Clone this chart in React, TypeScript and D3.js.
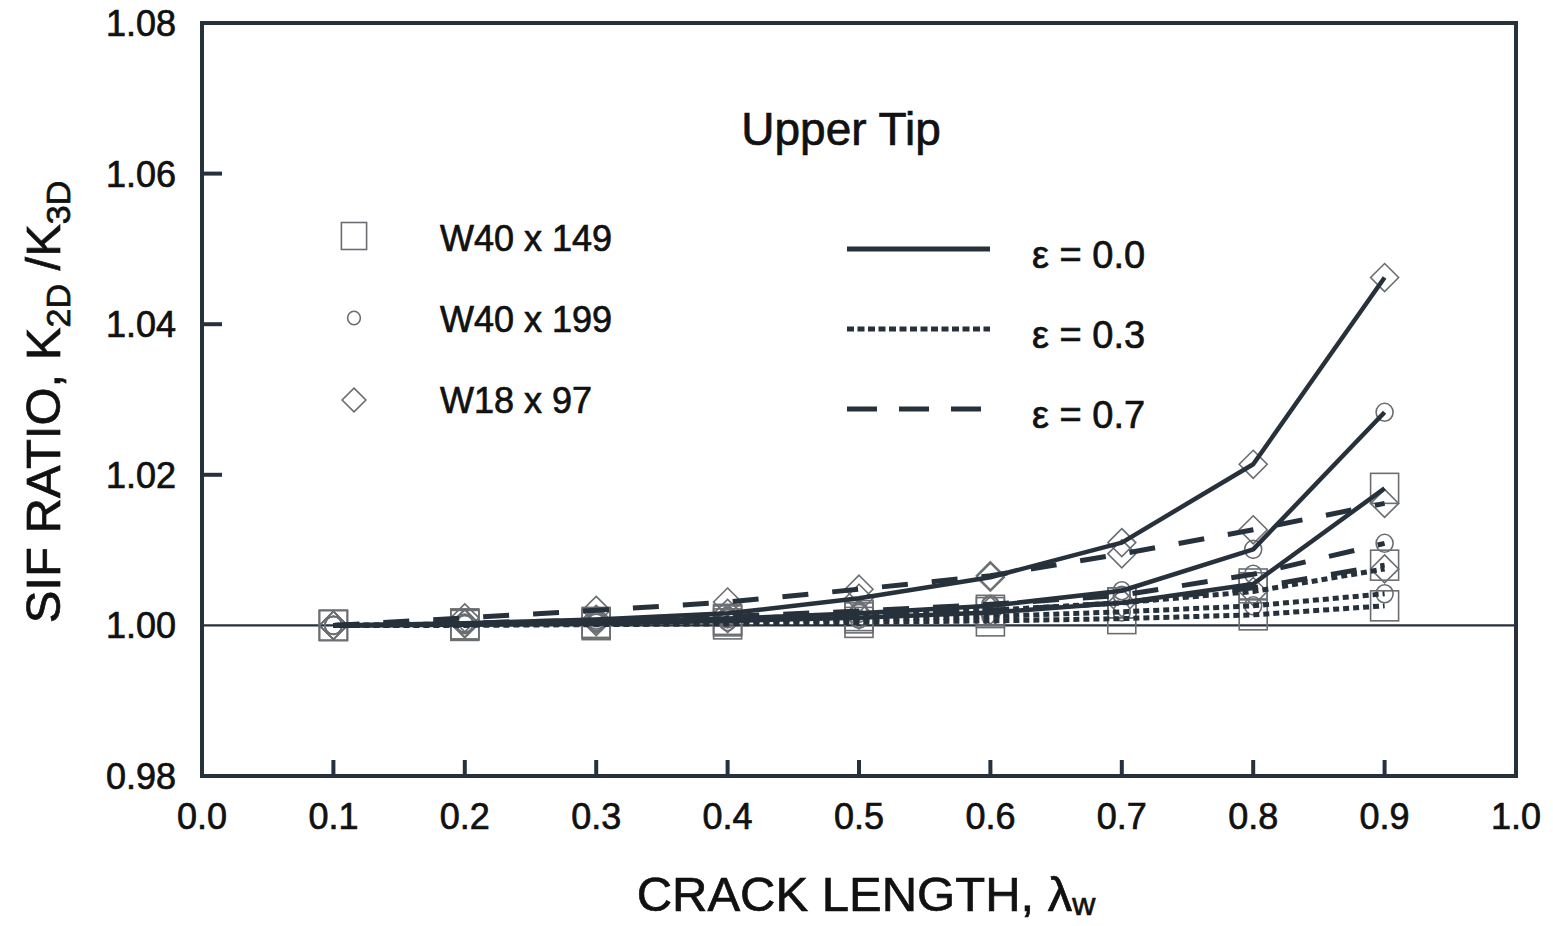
import React from "react";
import * as d3 from "d3";

const xs = [0.1, 0.2, 0.3, 0.4, 0.5, 0.6, 0.7, 0.8, 0.9];
const xTicks = [0.0, 0.1, 0.2, 0.3, 0.4, 0.5, 0.6, 0.7, 0.8, 0.9, 1.0];
const yTicks = [0.98, 1.0, 1.02, 1.04, 1.06, 1.08];

// eps = 0.0 (solid)
const sqE0 = [1.0, 1.0001, 1.0003, 1.0006, 1.001, 1.0017, 1.003, 1.0055, 1.0182];
const ciE0 = [1.0, 1.0002, 1.0005, 1.0009, 1.0016, 1.0026, 1.0046, 1.0101, 1.0283];
const diE0 = [1.0, 1.0003, 1.0008, 1.0016, 1.0036, 1.0064, 1.011, 1.0214, 1.0462];
// eps = 0.3 (dotted)
const sqE3 = [1.0, 1.0, 1.0001, 1.0002, 1.0004, 1.0006, 1.0009, 1.0014, 1.0026];
const ciE3 = [1.0, 1.0001, 1.0003, 1.0005, 1.0008, 1.0012, 1.0018, 1.0026, 1.0042];
const diE3 = [1.0, 1.0002, 1.0005, 1.0009, 1.0014, 1.002, 1.003, 1.0045, 1.0075];
// eps = 0.7 (dashed)
const sqE7 = [1.0, 1.0002, 1.0004, 1.0008, 1.0013, 1.002, 1.003, 1.005, 1.008];
const ciE7 = [1.0, 1.0003, 1.0007, 1.0012, 1.0019, 1.0028, 1.004, 1.0068, 1.0109];
const diE7 = [1.0, 1.001, 1.002, 1.0031, 1.0048, 1.0066, 1.0095, 1.0127, 1.0162];

const sections = ["W40 x 149", "W40 x 199", "W18 x 97"];
const epsLabels = ["ε = 0.0", "ε = 0.3", "ε = 0.7"];

const INK = "#27313b";
const MARK = "#6a6e72";
const TXT = "#111";
const FONT = "'Liberation Sans', Arial, sans-serif";

type Shape = "square" | "circle" | "diamond";

function Marker({ shape, cx, cy, s = 1 }: { shape: Shape; cx: number; cy: number; s?: number }) {
  if (shape === "square") {
    const w = 28 * s, h = 30 * s;
    return <rect x={cx - w / 2} y={cy - h / 2} width={w} height={h} fill="none" stroke={MARK} strokeWidth={1.6} />;
  }
  if (shape === "circle") {
    return <ellipse cx={cx} cy={cy} rx={8.5 * s} ry={9 * s} fill="none" stroke={MARK} strokeWidth={1.6} />;
  }
  const a = 14 * s;
  return (
    <path
      d={`M${cx},${cy - a} L${cx + a},${cy} L${cx},${cy + a} L${cx - a},${cy} Z`}
      fill="none"
      stroke={MARK}
      strokeWidth={1.6}
    />
  );
}

export default function App() {
  const W = 1553, H = 926;
  const x = d3.scaleLinear().domain([0, 1]).range([202, 1516]);
  const y = d3.scaleLinear().domain([0.98, 1.08]).range([776, 23]);
  const line = d3
    .line<number>()
    .x((_, i) => x(xs[i]))
    .y((d) => y(d))
    .curve(d3.curveLinear);

  const series: { vals: number[]; shape: Shape; dash: string | undefined; w: number }[] = [
    { vals: sqE3, shape: "square", dash: "6 4", w: 5 },
    { vals: ciE3, shape: "circle", dash: "6 4", w: 5 },
    { vals: diE3, shape: "diamond", dash: "6 4", w: 5 },
    { vals: sqE7, shape: "square", dash: "26 24", w: 5 },
    { vals: ciE7, shape: "circle", dash: "26 24", w: 5 },
    { vals: diE7, shape: "diamond", dash: "26 24", w: 5 },
    { vals: sqE0, shape: "square", dash: undefined, w: 4.5 },
    { vals: ciE0, shape: "circle", dash: undefined, w: 4.5 },
    { vals: diE0, shape: "diamond", dash: undefined, w: 4.5 },
  ];

  const legendShapes: Shape[] = ["square", "circle", "diamond"];
  const legendDash = [undefined, "7 3.5", "30 22"];
  const txtStroke = { stroke: TXT, strokeWidth: 0.7 };

  return (
    <svg width={W} height={H} style={{ position: "absolute", left: 0, top: 0, background: "#fff" }} fontFamily={FONT}>
      <rect x={0} y={0} width={W} height={H} fill="#fff" />
      {/* reference line at 1.00 */}
      <line x1={x(0)} x2={x(1)} y1={y(1.0)} y2={y(1.0)} stroke={INK} strokeWidth={2.2} />
      {/* markers */}
      {series.map((s, si) =>
        s.vals.map((v, i) => <Marker key={`m${si}-${i}`} shape={s.shape} cx={x(xs[i])} cy={y(v)} />)
      )}
      {/* lines */}
      {series.map((s, si) => (
        <path
          key={`l${si}`}
          d={line(s.vals) || ""}
          fill="none"
          stroke={INK}
          strokeWidth={s.w}
          strokeDasharray={s.dash}
          strokeLinejoin="round"
        />
      ))}
      {/* frame */}
      <rect x={x(0)} y={y(1.08)} width={x(1) - x(0)} height={y(0.98) - y(1.08)} fill="none" stroke={INK} strokeWidth={4} />
      {/* bottom ticks */}
      {xTicks.slice(1, -1).map((t) => (
        <line key={`xt${t}`} x1={x(t)} x2={x(t)} y1={y(0.98)} y2={y(0.98) - 16} stroke={INK} strokeWidth={4} />
      ))}
      {/* left ticks */}
      {yTicks.slice(2, -1).map((t) => (
        <line key={`yt${t}`} x1={x(0)} x2={x(0) + 20} y1={y(t)} y2={y(t)} stroke={INK} strokeWidth={4} />
      ))}
      {/* tick labels */}
      {xTicks.map((t) => (
        <text key={`xl${t}`} x={x(t)} y={829} textAnchor="middle" fontSize={36} fill={TXT} {...txtStroke}>
          {t.toFixed(1)}
        </text>
      ))}
      {yTicks.map((t) => (
        <text key={`yl${t}`} x={176} y={y(t) + 13} textAnchor="end" fontSize={36} fill={TXT} {...txtStroke}>
          {t.toFixed(2)}
        </text>
      ))}
      {/* axis titles */}
      <text x={866} y={911} textAnchor="middle" fontSize={49} fill={TXT} {...txtStroke}>
        CRACK LENGTH, λ<tspan fontSize={32} dy={4}>w</tspan>
      </text>
      <text transform="translate(60,402) rotate(-90)" textAnchor="middle" fontSize={49} fill={TXT} {...txtStroke}>
        SIF RATIO, K<tspan fontSize={34} dy={10}>2D</tspan>
        <tspan dy={-10}> /K</tspan>
        <tspan fontSize={34} dy={10}>3D</tspan>
      </text>
      {/* title */}
      <text x={841} y={145} textAnchor="middle" fontSize={46} fill={TXT} {...txtStroke}>
        Upper Tip
      </text>
      {/* legend: sections */}
      {sections.map((s, i) => (
        <g key={`ls${i}`}>
          <Marker
            shape={legendShapes[i]}
            cx={354}
            cy={236 + i * 82}
            s={legendShapes[i] === "circle" ? 0.75 : legendShapes[i] === "square" ? 0.9 : 0.85}
          />
          <text x={440} y={251 + i * 81} fontSize={36} fill={TXT} {...txtStroke}>
            {s}
          </text>
        </g>
      ))}
      {/* legend: eps */}
      {epsLabels.map((s, i) => (
        <g key={`le${i}`}>
          <line x1={847} x2={990} y1={249 + i * 80} y2={249 + i * 80} stroke={INK} strokeWidth={5} strokeDasharray={legendDash[i]} />
          <text x={1032} y={268 + i * 80} fontSize={38} fill={TXT} {...txtStroke}>
            {s}
          </text>
        </g>
      ))}
    </svg>
  );
}
